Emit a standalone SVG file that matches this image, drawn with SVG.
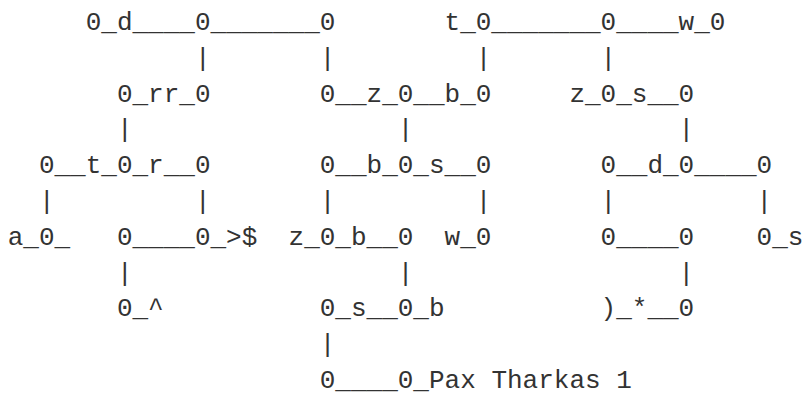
<svg xmlns="http://www.w3.org/2000/svg" width="805" height="396" viewBox="0 0 805 396">
<style>
text { font-family: "Liberation Mono", "Courier New", monospace; font-size: 26px; fill: #333333; white-space: pre; }
</style>
<rect width="805" height="396" fill="#ffffff"/>
<g id="connectors">
<text x="194.93" y="65.8">|</text>
<text x="319.75" y="65.8">|</text>
<text x="475.78" y="65.8">|</text>
<text x="600.60" y="65.8">|</text>
<text x="116.92" y="137.4">|</text>
<text x="397.76" y="137.4">|</text>
<text x="678.61" y="137.4">|</text>
<text x="38.91" y="209">|</text>
<text x="194.93" y="209">|</text>
<text x="319.75" y="209">|</text>
<text x="475.78" y="209">|</text>
<text x="600.60" y="209">|</text>
<text x="756.62" y="209">|</text>
<text x="116.92" y="280.6">|</text>
<text x="397.76" y="280.6">|</text>
<text x="678.61" y="280.6">|</text>
<text x="319.75" y="352.2">|</text>
</g>
<g id="n1"><text x="85.71" y="30">0_d____0_______0</text></g>
<g id="n2"><text x="444.57" y="30">t_0_______0____w_0</text></g>
<g id="n3"><text x="116.92" y="101.6">0_rr_0</text></g>
<g id="n4"><text x="319.75" y="101.6">0__z_0__b_0</text></g>
<g id="n5"><text x="569.39" y="101.6">z_0_s__0</text></g>
<g id="n6"><text x="38.91" y="173.2">0__t_0_r__0</text></g>
<g id="n7"><text x="319.75" y="173.2">0__b_0_s__0</text></g>
<g id="n8"><text x="600.60" y="173.2">0__d_0____0</text></g>
<g id="n9"><text x="7.7" y="244.8">a_0_</text></g>
<g id="n10"><text x="116.92" y="244.8">0____0_&gt;$</text></g>
<g id="n11"><text x="288.55" y="244.8">z_0_b__0</text></g>
<g id="n12"><text x="444.57" y="244.8">w_0</text></g>
<g id="n13"><text x="600.60" y="244.8">0____0</text></g>
<g id="n14"><text x="756.62" y="244.8">0_s</text></g>
<g id="n15"><text x="116.92" y="316.4">0_^</text></g>
<g id="n16"><text x="319.75" y="316.4">0_s__0_b</text></g>
<g id="n17"><text x="600.60" y="316.4">)_*__0</text></g>
<g id="n18"><text x="319.75" y="388">0____0_Pax Tharkas 1</text></g>
</svg>
